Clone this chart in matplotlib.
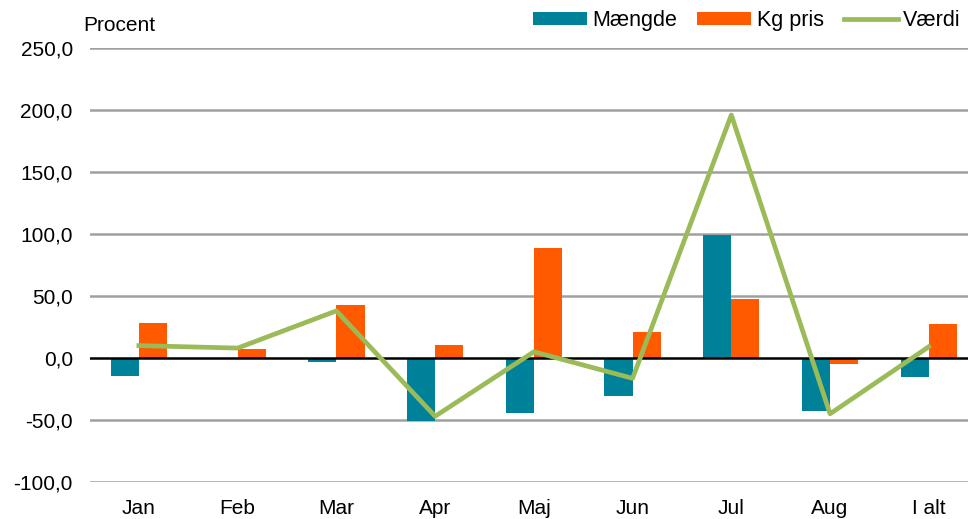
import numpy as np
import matplotlib
matplotlib.use("Agg")
import matplotlib.pyplot as plt

plt.rcParams["font.family"] = ["Liberation Sans", "DejaVu Sans"]

# Data (percent change)
categories = ["Jan", "Feb", "Mar", "Apr", "Maj", "Jun", "Jul", "Aug", "I alt"]
maengde = [-14.5, 0.0, -3.5, -51.0, -44.6, -30.9, 99.2, -42.5, -15.0]
kg_pris = [28.2, 7.3, 42.5, 10.5, 88.5, 21.2, 47.6, -4.8, 27.7]
vaerdi = [10.0, 8.0, 38.0, -47.0, 5.0, -16.4, 196.0, -45.0, 9.1]
yticks = [-100, -50, 0, 50, 100, 150, 200, 250]

TEAL = "#00819A"
ORANGE = "#FF5A00"
GREEN = "#9BBB59"
FS = 15

fig = plt.figure(figsize=(9.68, 5.19), dpi=100)
# axes runs slightly past the right edge, as in the cropped original
ax = fig.add_axes([0.0925, 0.0713, 0.918, 0.8362])

x = np.arange(len(categories))
w = 0.285

for y in yticks:
    if y != 0:
        ax.axhline(y, color="#A0A0A0", linewidth=1.8, zorder=0)

b1 = ax.bar(x - w / 2, maengde, width=w, color=TEAL, label="Mængde", zorder=2)
b2 = ax.bar(x + w / 2, kg_pris, width=w, color=ORANGE, label="Kg pris", zorder=2)
ax.axhline(0, color="black", linewidth=1.8, zorder=3)
l1, = ax.plot(x, vaerdi, color=GREEN, linewidth=3.4, label="Værdi", zorder=4)

ax.set_xlim(-0.5, len(categories) - 0.5)
ax.set_ylim(-100, 250)
ax.set_yticks(yticks)
ax.set_yticklabels([f"{v:.1f}".replace(".", ",") for v in yticks])
ax.set_xticks(x)
ax.set_xticklabels(categories)
ax.tick_params(axis="both", length=0, labelsize=FS)
ax.tick_params(axis="y", pad=12)
ax.tick_params(axis="x", pad=12)
for s in ax.spines.values():
    s.set_visible(False)

fig.text(83 / 968, 1 - 31 / 519, "Procent", fontsize=FS, ha="left", va="baseline")

fig.legend(handles=[b1, b2, l1], loc="upper right", bbox_to_anchor=(1.006, 1.005),
           ncol=3, frameon=False, fontsize=15.5, handlelength=2.5, handleheight=0.55,
           handletextpad=0.25, columnspacing=0.95, borderaxespad=0.2)

fig.savefig("out.png", dpi=100)
